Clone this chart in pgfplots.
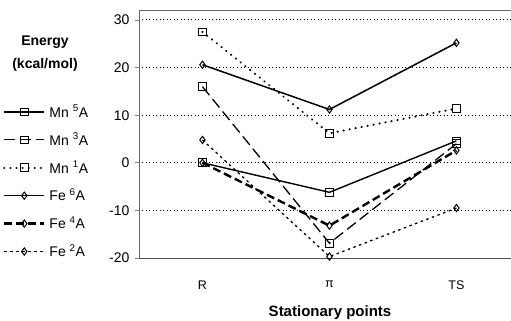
\documentclass[border=0pt]{standalone}
\usepackage{pgfplots}
\pgfplotsset{compat=1.18}
\usepackage{fontspec}
\setmainfont{Liberation Sans}
\begin{document}
\begin{tikzpicture}[font=\fontsize{14}{16}\selectfont]
\begin{axis}[
  scale only axis, width=372pt, height=248pt,
  xmin=-0.5, xmax=2.43, ymin=-20, ymax=32.1,
  xtick={0,1,2}, xticklabels={R,π,TS},
  xtick style={draw=none},
  xticklabel style={yshift=-15pt, font=\fontsize{12.5}{14}\selectfont},
  ytick={-20,-10,0,10,20,30},
  ytick pos=left, tick align=outside, major tick length=4pt,
  ytick style={gray, line width=0.6pt},
  yticklabel style={xshift=-2pt},
  /pgf/number format/assume math mode=true,
  ymajorgrids, grid style={black, line width=1pt, dash pattern=on 1pt off 2.5pt},
  axis line style={draw=none},
  clip=false,
  legend style={at={(-0.374,0.625)}, anchor=north west, draw=none, fill=none,
    row sep=14.4pt, column sep=4pt, font=\fontsize{14}{16}\selectfont,
    nodes={inner sep=0pt, minimum height=10pt}},
  legend cell align=left,
  legend image code/.code={\draw[mark repeat=2,mark phase=2,#1] plot coordinates {(0pt,0pt)(20pt,0pt)(40pt,0pt)};},
]
\draw[gray!80!black, line width=0.7pt] (rel axis cs:0,1) -- (rel axis cs:1,1);
\draw[gray!80!black, line width=0.7pt] (rel axis cs:0,0) -- (rel axis cs:0,1);
\draw[gray!60!black, line width=0.7pt] (rel axis cs:0,0) -- (rel axis cs:1,0);
% Mn 5A
\addplot[black, line width=1.4pt, mark=square, mark size=3.8pt, mark options={solid, fill=white, line width=1pt}]
  coordinates {(0,0) (1,-6.2) (2,4.6)};
\addlegendentry{Mn \textsuperscript{5}A}
% Mn 3A
\addplot[black, line width=1.3pt, dash pattern=on 11pt off 5pt, mark=square, mark size=3.8pt, mark options={solid, fill=white, line width=1pt}]
  coordinates {(0,16) (1,-16.9) (2,4)};
\addlegendentry{Mn \textsuperscript{3}A}
% Mn 1A
\addplot[black, line width=2.3pt, line cap=round, dash pattern=on 0.1pt off 6pt, mark=square, mark size=3.8pt, mark options={solid, fill=white, line width=1pt}]
  coordinates {(0,27.5) (1,6.2) (2,11.4)};
\addlegendentry{Mn \textsuperscript{1}A}
% Fe 6A
\addplot[black, line width=1.5pt, mark=diamond, mark size=3.6pt, mark options={solid, fill=white, line width=1pt}]
  coordinates {(0,20.6) (1,11.2) (2,25.2)};
\addlegendentry{Fe \textsuperscript{6}A}
% Fe 4A
\addplot[black, line width=2.4pt, dash pattern=on 8pt off 4pt, mark=diamond, mark size=3.6pt, mark options={solid, fill=white, line width=1pt}]
  coordinates {(0,0) (1,-13.2) (2,2.6)};
\addlegendentry{Fe \textsuperscript{4}A}
% Fe 2A
\addplot[black, line width=1.3pt, dash pattern=on 2.5pt off 3.5pt, mark=diamond, mark size=3.6pt, mark options={solid, fill=white, line width=1pt}]
  coordinates {(0,4.8) (1,-19.7) (2,-9.5)};
\addlegendentry{Fe \textsuperscript{2}A}
\end{axis}
\node[font=\fontsize{14}{23}\selectfont\bfseries, align=center] at (-94pt,204pt) {Energy\\(kcal/mol)};
\node[font=\fontsize{15}{17}\selectfont\bfseries] at (191pt,-55pt) {Stationary points};
\pgfresetboundingbox
\useasboundingbox (-139pt,-63pt) rectangle (372pt,258pt);
\end{tikzpicture}
\end{document}
